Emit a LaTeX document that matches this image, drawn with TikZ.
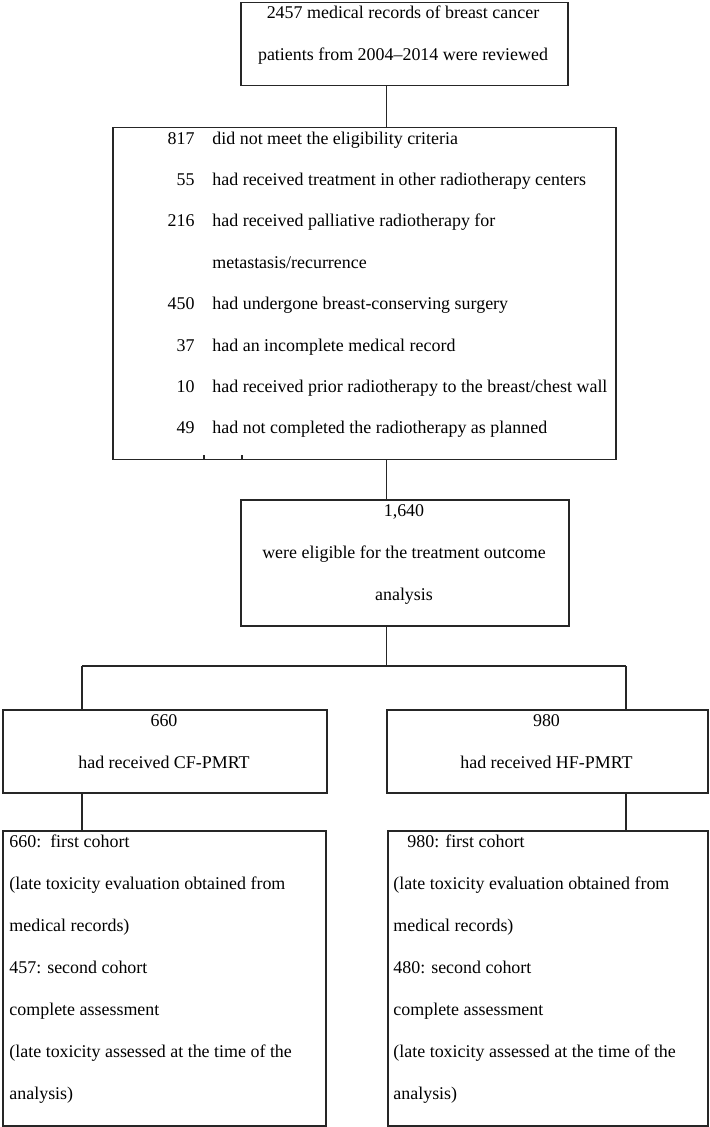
\documentclass[tikz,border=0pt]{standalone}
\usepackage{fontspec}
\setmainfont{Liberation Serif}
\usetikzlibrary{positioning}

\tikzset{
  box/.style={draw=black!85, line width=0.75pt, inner sep=0pt, anchor=north west},
  txt/.style={inner sep=0pt, font=\fontsize{8.97}{21}\selectfont},
  link/.style={draw=black!85, line width=0.75pt},
}

\begin{document}
\begin{tikzpicture}[x=0.5pt, y=-0.5pt]
    \useasboundingbox (0,0) rectangle (709,1127);
    \node[box, minimum width=163.5pt, minimum height=41.5pt] (records) at (240,2) {};
    \node[box, minimum width=251.5pt, minimum height=166pt] (excluded) at (112,127) {};
    \node[box, minimum width=164pt, minimum height=63pt] (eligible) at (240,499) {};
    \node[box, minimum width=162pt, minimum height=41.5pt] (cfpmrt) at (2,709) {};
    \node[box, minimum width=160.5pt, minimum height=41.5pt] (hfpmrt) at (386,709) {};
    \node[box, minimum width=161.5pt, minimum height=147.5pt] (cfcohort) at (2,830) {};
    \node[box, minimum width=160pt, minimum height=147.5pt] (hfcohort) at (387,830) {};

    \node[txt, align=center, anchor=base] (recordsT) at (403,61)
      {2457 medical records of breast cancer\\patients from 2004--2014 were reviewed};
    \node[txt, align=right, anchor=base east, font=\fontsize{8.97}{20.7}\selectfont] (excludedN) at (195,434)
      {817\\55\\216\\\mbox{}\\450\\37\\10\\49};
    \node[txt, align=left, anchor=base west, font=\fontsize{8.97}{20.7}\selectfont] (excludedT) at (212,434)
      {did not meet the eligibility criteria\\
       had received treatment in other radiotherapy centers\\
       had received palliative radiotherapy for\\
       metastasis/recurrence\\
       had undergone breast-conserving surgery\\
       had an incomplete medical record\\
       had received prior radiotherapy to the breast/chest wall\\
       had not completed the radiotherapy as planned};
    \node[txt, align=center, anchor=base] (eligibleT) at (404,600)
      {1,640\\were eligible for the treatment outcome\\analysis};
    \node[txt, align=center, anchor=base] (cfpmrtT) at (164,768) {660\\had received CF-PMRT};
    \node[txt, align=center, anchor=base] (hfpmrtT) at (546.5,768) {980\\had received HF-PMRT};
    \node[txt, align=left, anchor=base west] (cfcohortT) at (9,1099)
      {660:\ \ first cohort\\
       (late toxicity evaluation obtained from\\
       medical records)\\
       457: second cohort\\
       complete assessment\\
       (late toxicity assessed at the time of the\\
       analysis)};
    \node[txt, align=left, anchor=base west] (hfcohortT) at (393,1099)
      {\hspace*{7pt}980: first cohort\\
       (late toxicity evaluation obtained from\\
       medical records)\\
       480: second cohort\\
       complete assessment\\
       (late toxicity assessed at the time of the\\
       analysis)};

    \coordinate (spine) at (386.5,0);
    \coordinate (forkL) at (82,666);
    \coordinate (forkR) at (626,666);
    \draw[link] (records.south -| spine) -- (excluded.north -| spine);
    \draw[link] (excluded.south -| spine) -- (eligible.north -| spine);
    \draw[link] (eligible.south -| spine) -- (forkL -| spine);
    \draw[link] (forkL) -- (forkR);
    \draw[link] (forkL) -- (cfpmrt.north -| forkL);
    \draw[link] (forkR) -- (hfpmrt.north -| forkR);
    \draw[link] (cfpmrt.south -| forkL) -- (cfcohort.north -| forkL);
    \draw[link] (hfpmrt.south -| forkR) -- (hfcohort.north -| forkR);
    \draw[link] (204,459) -- (204,455);
    \draw[link] (242,459) -- (242,455);
\end{tikzpicture}
\end{document}
